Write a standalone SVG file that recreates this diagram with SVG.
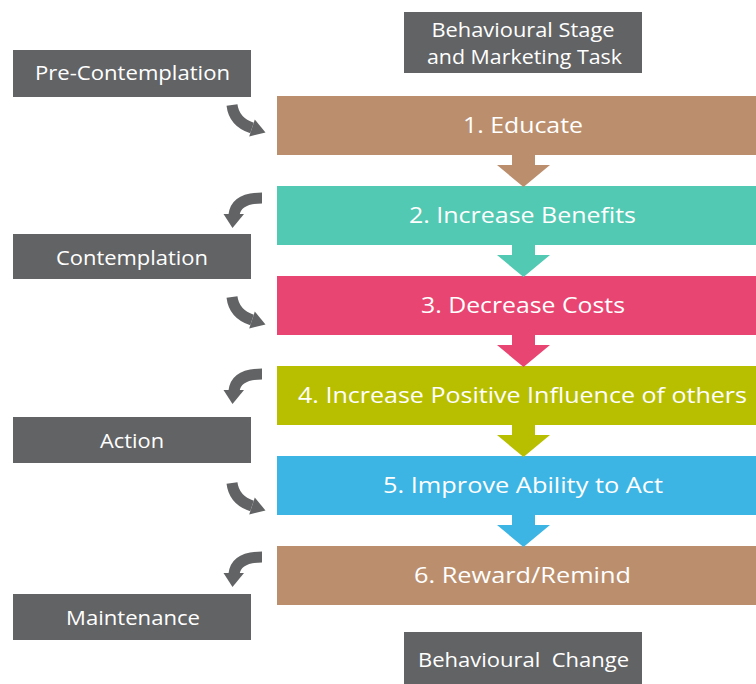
<svg xmlns="http://www.w3.org/2000/svg" xmlns:xlink="http://www.w3.org/1999/xlink" width="756" height="684" viewBox="0 0 756 684">
  <style>
    .stage { fill: #626365; }
    .stage-text { fill: #ffffff; font-family: "Open Sans", "Noto Sans", sans-serif; font-size: 20px; text-anchor: middle; }
    .task-text { fill: #ffffff; font-family: "Open Sans", "Noto Sans", sans-serif; font-size: 22px; text-anchor: middle; }
    .curve { fill: none; stroke: #626365; stroke-width: 11; }
    .curve-head { fill: #626365; }
  </style>
  <defs>
    <!-- curved arrow from a stage box into the next task bar -->
    <g id="curveIn">
      <path class="curve" d="M0,0 Q2,17 20,23"/>
      <polygon class="curve-head" points="33.5,27.5 22.8,14.5 17.2,31.5"/>
    </g>
    <!-- curved arrow from a task bar back to a stage box -->
    <g id="curveOut">
      <path class="curve" d="M0,0 Q-26,0 -28,17"/>
      <polygon class="curve-head" points="-29.5,30 -38.5,16 -18,16"/>
    </g>
    <!-- short down arrow under a task bar -->
    <polygon id="downArrow" points="512,0 535,0 535,10 550,10 523.5,32 497,10 512,10"/>
  </defs>

  <!-- header and footer -->
  <g id="header">
    <rect class="stage" x="404" y="12" width="238" height="61"/>
    <text class="stage-text" x="523" y="37" textLength="183" lengthAdjust="spacingAndGlyphs">Behavioural Stage</text>
    <text class="stage-text" x="524.5" y="64" textLength="195" lengthAdjust="spacingAndGlyphs">and Marketing Task</text>
  </g>
  <g id="footer">
    <rect class="stage" x="404" y="632" width="238" height="60"/>
    <text class="stage-text" x="523.5" y="667" textLength="211" lengthAdjust="spacingAndGlyphs" xml:space="preserve">Behavioural  Change</text>
  </g>

  <!-- task bars -->
  <g id="task1">
    <rect x="277" y="96" width="479" height="59" fill="#BB8F6E"/>
    <text class="task-text" x="523" y="133" textLength="120" lengthAdjust="spacingAndGlyphs">1. Educate</text>
  </g>
  <g id="task2">
    <rect x="277" y="186" width="479" height="59" fill="#52C9B2"/>
    <text class="task-text" x="522.5" y="223" textLength="227" lengthAdjust="spacingAndGlyphs">2. Increase Benefits</text>
  </g>
  <g id="task3">
    <rect x="277" y="276" width="479" height="59" fill="#E94572"/>
    <text class="task-text" x="523" y="313" textLength="204" lengthAdjust="spacingAndGlyphs">3. Decrease Costs</text>
  </g>
  <g id="task4">
    <rect x="277" y="366" width="479" height="59" fill="#B8BF00"/>
    <text class="task-text" x="522.5" y="403" textLength="449" lengthAdjust="spacingAndGlyphs">4. Increase Positive Influence of others</text>
  </g>
  <g id="task5">
    <rect x="277" y="456" width="479" height="59" fill="#3DB5E4"/>
    <text class="task-text" x="523" y="493" textLength="280" lengthAdjust="spacingAndGlyphs">5. Improve Ability to Act</text>
  </g>
  <g id="task6">
    <rect x="277" y="546" width="479" height="59" fill="#BB8F6E"/>
    <text class="task-text" x="522.5" y="583" textLength="217" lengthAdjust="spacingAndGlyphs">6. Reward/Remind</text>
  </g>

  <!-- stage boxes -->
  <g id="preContemplation">
    <rect class="stage" x="13" y="50" width="238" height="47"/>
    <text class="stage-text" x="132.5" y="80" textLength="195" lengthAdjust="spacingAndGlyphs">Pre-Contemplation</text>
  </g>
  <g id="contemplation">
    <rect class="stage" x="13" y="234" width="238" height="45"/>
    <text class="stage-text" x="132" y="265" textLength="152" lengthAdjust="spacingAndGlyphs">Contemplation</text>
  </g>
  <g id="action">
    <rect class="stage" x="13" y="417" width="238" height="46"/>
    <text class="stage-text" x="132" y="448" textLength="64" lengthAdjust="spacingAndGlyphs">Action</text>
  </g>
  <g id="maintenance">
    <rect class="stage" x="13" y="594" width="238" height="46"/>
    <text class="stage-text" x="133" y="625" textLength="134" lengthAdjust="spacingAndGlyphs">Maintenance</text>
  </g>

  <!-- connectors -->
  <g id="connectors">
    <use xlink:href="#downArrow" y="155" fill="#BB8F6E"/>
    <use xlink:href="#downArrow" y="245" fill="#52C9B2"/>
    <use xlink:href="#downArrow" y="335" fill="#E94572"/>
    <use xlink:href="#downArrow" y="425" fill="#B8BF00"/>
    <use xlink:href="#downArrow" y="515" fill="#3DB5E4"/>

    <use xlink:href="#curveIn" x="232" y="105"/>
    <use xlink:href="#curveIn" x="232" y="297"/>
    <use xlink:href="#curveIn" x="232" y="483"/>

    <use xlink:href="#curveOut" x="262" y="198"/>
    <use xlink:href="#curveOut" x="262" y="374"/>
    <use xlink:href="#curveOut" x="262" y="557"/>
  </g>
</svg>
